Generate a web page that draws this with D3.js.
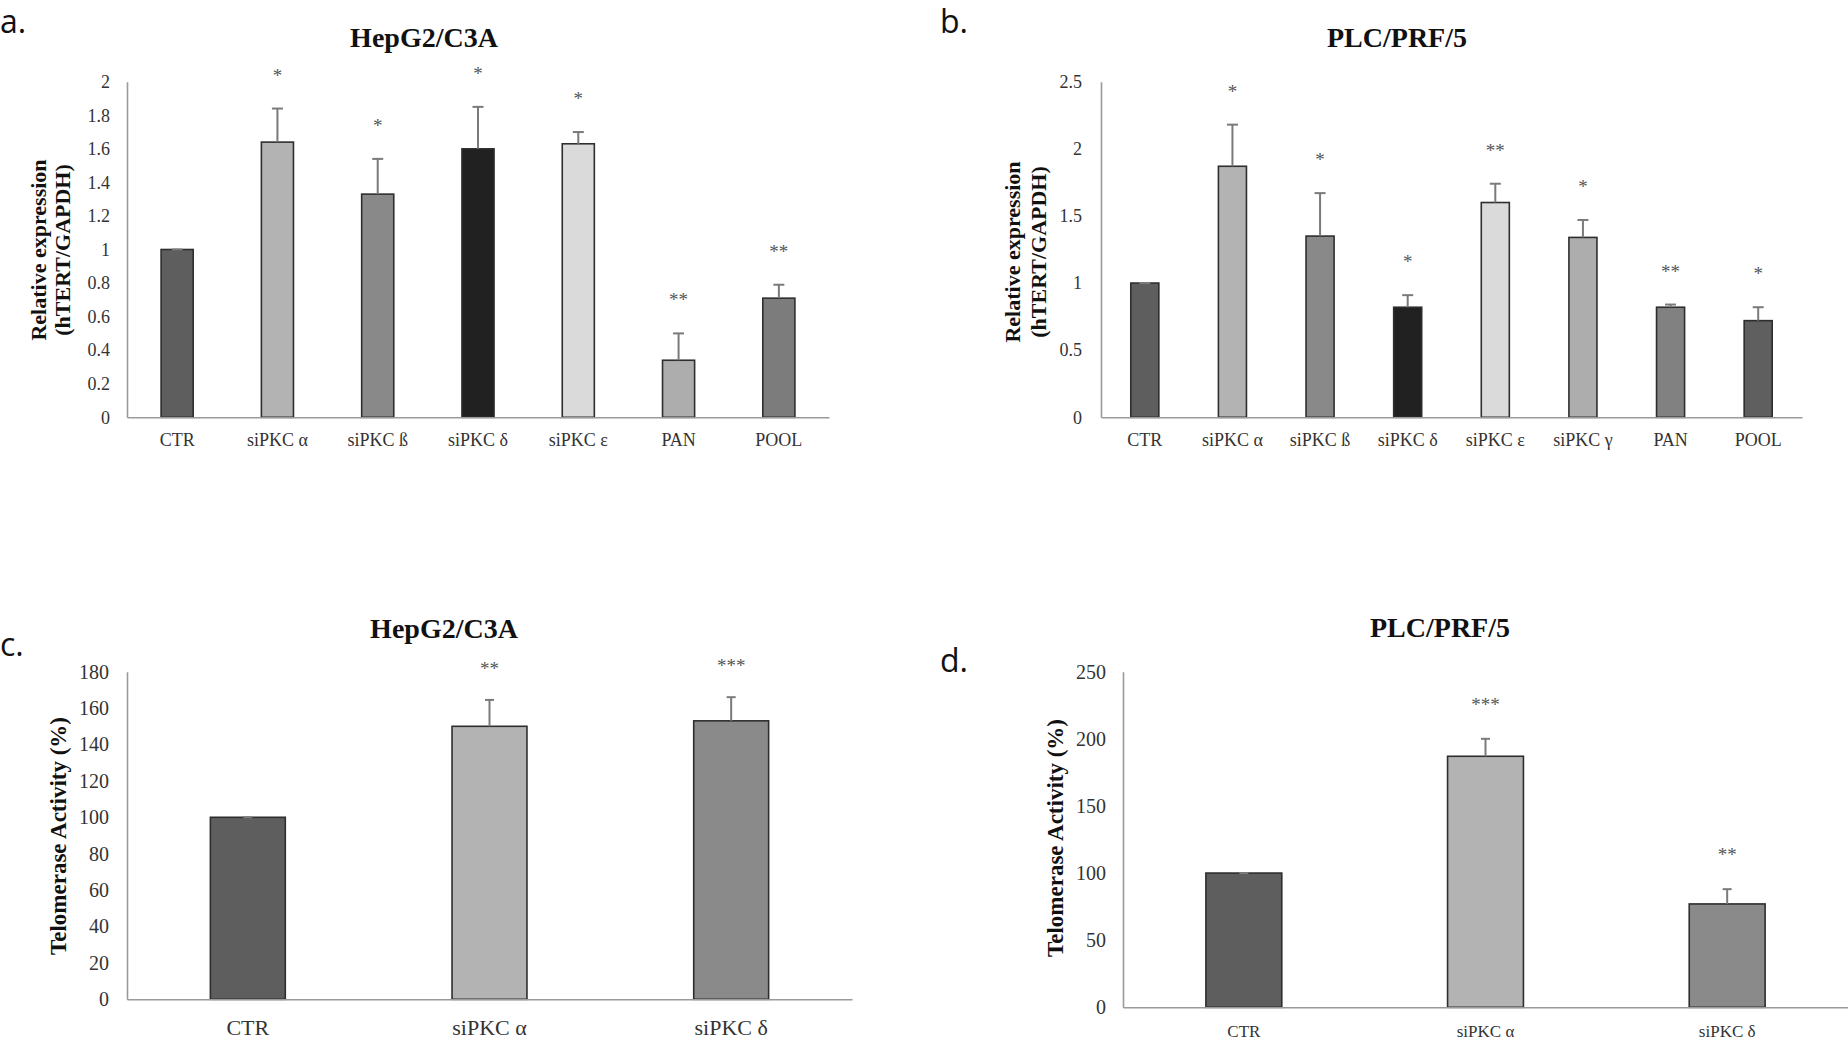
<!DOCTYPE html>
<html>
<head>
<meta charset="utf-8">
<script src="https://cdn.jsdelivr.net/npm/d3@7"></script>
<style>
  html, body { margin: 0; padding: 0; background: #fff; }
  svg { display: block; }
  .serif { font-family: "Liberation Serif", "Times New Roman", serif; }
</style>
</head>
<body>
<svg id="chart" width="1848" height="1041"></svg>
<script>
// ---------- DATA ----------
// Panel a: HepG2/C3A relative expression
const catsA  = ["CTR", "siPKC α", "siPKC ß", "siPKC δ", "siPKC ε", "PAN", "POOL"];
const valsA  = [1.00, 1.64, 1.33, 1.60, 1.63, 0.34, 0.71];
const errsA  = [0.00, 0.20, 0.21, 0.25, 0.07, 0.16, 0.08];
const sigA   = ["", "*", "*", "*", "*", "**", "**"];
const ticksA = [0, 0.2, 0.4, 0.6, 0.8, 1, 1.2, 1.4, 1.6, 1.8, 2];

// Panel b: PLC/PRF/5 relative expression
const catsB  = ["CTR", "siPKC α", "siPKC ß", "siPKC δ", "siPKC ε", "siPKC γ", "PAN", "POOL"];
const valsB  = [1.00, 1.87, 1.35, 0.82, 1.60, 1.34, 0.82, 0.72];
const errsB  = [0.00, 0.31, 0.32, 0.09, 0.14, 0.13, 0.02, 0.10];
const sigB   = ["", "*", "*", "*", "**", "*", "**", "*"];
const ticksB = [0, 0.5, 1, 1.5, 2, 2.5];

// Panel c: HepG2/C3A telomerase activity
const catsC  = ["CTR", "siPKC α", "siPKC δ"];
const valsC  = [100, 150, 153];
const errsC  = [0, 14.5, 13];
const sigC   = ["", "**", "***"];
const ticksC = [0, 20, 40, 60, 80, 100, 120, 140, 160, 180];

// Panel d: PLC/PRF/5 telomerase activity
const catsD  = ["CTR", "siPKC α", "siPKC δ"];
const valsD  = [100, 187, 77];
const errsD  = [0, 13, 11];
const sigD   = ["", "***", "**"];
const ticksD = [0, 50, 100, 150, 200, 250];

// ---------- STYLE ----------
const colA = ["#5e5e5e", "#b3b3b3", "#898989", "#212121", "#dadada", "#adadad", "#7c7c7c"];
const colB = ["#5e5e5e", "#b3b3b3", "#898989", "#212121", "#dadada", "#adadad", "#818181", "#5f5f5f"];
const colC = ["#5e5e5e", "#b3b3b3", "#8a8a8a"];
const colD = ["#5e5e5e", "#b3b3b3", "#8a8a8a"];

const svg = d3.select("#chart");

function panel(cfg) {
  const g = svg.append("g");
  const x = d3.scaleBand().domain(cfg.cats).range([cfg.x0, cfg.x1])
    .paddingInner(cfg.pad).paddingOuter(cfg.pad / 2);
  const y = d3.scaleLinear().domain([0, d3.max(cfg.ticks)]).range([cfg.yBot, cfg.yTop]);

  // y axis
  const ya = g.append("g").attr("transform", `translate(${cfg.x0},0)`)
    .call(d3.axisLeft(y).tickValues(cfg.ticks).tickSize(0).tickSizeOuter(0).tickPadding(cfg.yPad)
      .tickFormat(d => String(d)));
  ya.select(".domain").attr("stroke", "#9a9a9a").attr("stroke-width", 1.6);
  ya.selectAll("text").attr("class", "serif").attr("font-size", cfg.tickFs).attr("fill", "#333");

  // bars
  g.selectAll("rect.bar").data(cfg.vals).join("rect")
    .attr("x", (d, i) => x(cfg.cats[i]))
    .attr("width", x.bandwidth())
    .attr("y", d => y(d))
    .attr("height", d => y(0) - y(d))
    .attr("fill", (d, i) => cfg.cols[i])
    .attr("stroke", "#2e2e2e").attr("stroke-width", 1.6);

  // error bars (upper only)
  const cx = i => x(cfg.cats[i]) + x.bandwidth() / 2;
  g.selectAll("line.err").data(cfg.vals).join("line")
    .attr("x1", (d, i) => cx(i)).attr("x2", (d, i) => cx(i))
    .attr("y1", d => y(d)).attr("y2", (d, i) => y(d + cfg.errs[i]))
    .attr("stroke", "#7a7a7a").attr("stroke-width", 2);
  g.selectAll("line.cap").data(cfg.vals).join("line")
    .attr("x1", (d, i) => cx(i) - cfg.cap / 2).attr("x2", (d, i) => cx(i) + cfg.cap / 2)
    .attr("y1", (d, i) => y(d + cfg.errs[i])).attr("y2", (d, i) => y(d + cfg.errs[i]))
    .attr("stroke", "#7a7a7a").attr("stroke-width", 2);

  // significance stars
  g.selectAll("text.sig").data(cfg.sig).join("text")
    .attr("class", "serif")
    .attr("x", (d, i) => cx(i))
    .attr("y", (d, i) => y(cfg.vals[i] + cfg.errs[i]) - cfg.starOff)
    .attr("text-anchor", "middle")
    .attr("font-size", cfg.starFs).attr("fill", "#555")
    .text(d => d);

  // x axis
  const xa = g.append("g").attr("transform", `translate(0,${cfg.yBot})`)
    .call(d3.axisBottom(x).tickSize(0).tickSizeOuter(0).tickPadding(cfg.xPad));
  xa.select(".domain").attr("stroke", "#9a9a9a").attr("stroke-width", 1.6);
  xa.selectAll("text").attr("class", "serif").attr("font-size", cfg.catFs).attr("fill", "#333");

  // title
  g.append("text").attr("class", "serif")
    .attr("x", cfg.titleX).attr("y", cfg.titleY)
    .attr("text-anchor", "middle").attr("font-weight", "bold")
    .attr("font-size", cfg.titleFs).attr("fill", "#111")
    .text(cfg.title);

  // y title (rotated, possibly multi-line)
  cfg.yTitle.forEach((t, k) => {
    g.append("text").attr("class", "serif")
      .attr("transform", `translate(${cfg.yTitleX[k]},${cfg.yTitleY}) rotate(-90)`)
      .attr("text-anchor", "middle").attr("dy", "0.35em")
      .attr("font-weight", "bold").attr("font-size", cfg.yTitleFs).attr("fill", "#111")
      .text(t);
  });

  // panel letter
  g.append("text")
    .attr("x", cfg.letterX).attr("y", cfg.letterY)
    .attr("font-family", "'Open Sans', 'Noto Sans', sans-serif")
    .attr("font-size", 32).attr("fill", "#111")
    .text(cfg.letter);
}

panel({
  cats: catsA, vals: valsA, errs: errsA, sig: sigA, ticks: ticksA, cols: colA,
  x0: 127, x1: 829, yTop: 81.7, yBot: 417.3, pad: 0.68, cap: 11,
  yPad: 17, xPad: 16, tickFs: 18, catFs: 18, starFs: 19, starOff: 27,
  title: "HepG2/C3A", titleX: 424, titleY: 47, titleFs: 28,
  yTitle: ["Relative expression", "(hTERT/GAPDH)"], yTitleX: [38, 62], yTitleY: 250, yTitleFs: 22,
  letter: "a.", letterX: 0, letterY: 33
});

panel({
  cats: catsB, vals: valsB, errs: errsB, sig: sigB, ticks: ticksB, cols: colB,
  x0: 1101, x1: 1802, yTop: 81.7, yBot: 417.3, pad: 0.68, cap: 11,
  yPad: 19, xPad: 16, tickFs: 18, catFs: 18, starFs: 19, starOff: 27,
  title: "PLC/PRF/5", titleX: 1397, titleY: 47, titleFs: 28,
  yTitle: ["Relative expression", "(hTERT/GAPDH)"], yTitleX: [1012, 1038], yTitleY: 252, yTitleFs: 22,
  letter: "b.", letterX: 940, letterY: 33
});

panel({
  cats: catsC, vals: valsC, errs: errsC, sig: sigC, ticks: ticksC, cols: colC,
  x0: 127, x1: 852, yTop: 671.7, yBot: 999.3, pad: 0.69, cap: 9,
  yPad: 18, xPad: 20, tickFs: 20, catFs: 22, starFs: 19, starOff: 25,
  title: "HepG2/C3A", titleX: 444, titleY: 638, titleFs: 28,
  yTitle: ["Telomerase Activity (%)"], yTitleX: [58], yTitleY: 836, yTitleFs: 23,
  letter: "c.", letterX: 0, letterY: 656
});

panel({
  cats: catsD, vals: valsD, errs: errsD, sig: sigD, ticks: ticksD, cols: colD,
  x0: 1123, x1: 1848, yTop: 671.7, yBot: 1007.3, pad: 0.686, cap: 9,
  yPad: 17, xPad: 18, tickFs: 20, catFs: 17, starFs: 19, starOff: 28,
  title: "PLC/PRF/5", titleX: 1440, titleY: 637, titleFs: 28,
  yTitle: ["Telomerase Activity (%)"], yTitleX: [1055], yTitleY: 838, yTitleFs: 23,
  letter: "d.", letterX: 940, letterY: 672
});
</script>
</body>
</html>
